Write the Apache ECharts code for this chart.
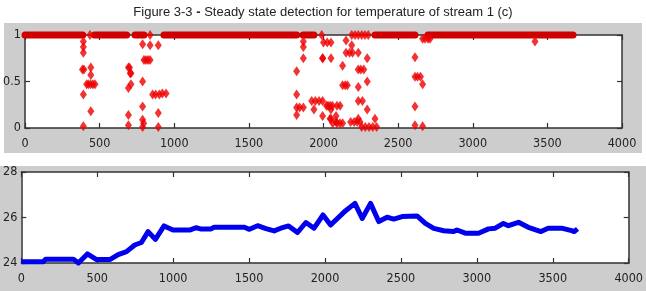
<!DOCTYPE html>
<html>
<head>
<meta charset="utf-8">
<script src="https://cdn.jsdelivr.net/npm/echarts@6/dist/echarts.min.js"></script>
<style>
  html, body { margin: 0; padding: 0; background: #fff; }
  #main { width: 646px; height: 291px; }
</style>
</head>
<body>
<div id="main"></div>
<script type="text/javascript">
// top panel: steady state flag, continuous stretches at 1
var bandStart = [0, 465, 737, 931, 1863, 2345, 2700];
var bandEnd   = [387, 681, 797, 1820, 1936, 2613, 3672];

// top panel: scattered detection points [sample, value]
var flagX = [435, 838, 1988, 2189, 2211, 2233, 2256, 2278, 2300,
  391, 391, 391, 385, 395, 391, 391,
  413, 425, 440, 455, 469, 441, 441, 441,
  693, 700, 705, 693, 693, 693, 710, 710,
  788, 788, 788, 788, 788, 795, 797, 810, 824, 838, 838,
  893, 893, 893, 855, 875, 900, 920, 945,
  1820, 1820, 1820, 1840, 1865, 1820, 1865, 1865, 1865, 1936,
  1921, 1945, 1970, 1994, 1994, 1994, 2050, 2050, 2050, 2000, 2025, 2050,
  1995, 2020, 2044, 2044, 2030, 2060, 2090, 2111,
  2151, 2189, 2151, 2175, 2195, 2128, 2128, 2145, 2160, 2084, 2084,
  2062, 2090, 2110, 2128, 2233, 2233, 2233, 2233, 2233, 2250, 2270,
  2182, 2205, 2225, 2245, 2261, 2293, 2293, 2293,
  2256, 2280, 2305, 2330, 2356, 2345,
  2613, 2613, 2613, 2613, 2630, 2650, 2664, 2664, 2664, 2680, 2700, 2714,
  3417];
var flagY = [1, 1, 1, 1, 1, 1, 1, 1, 1,
  0.93, 0.87, 0.81, 0.63, 0.63, 0.36, 0.02,
  0.47, 0.47, 0.47, 0.47, 0.47, 0.65, 0.57, 0.18,
  0.65, 0.65, 0.59, 0.43, 0.14, 0.03, 0.59, 0.47,
  0.90, 0.50, 0.23, 0.09, 0.01, 0.05, 0.73, 0.73, 0.73, 0.73, 0.89,
  0.89, 0.16, 0.01, 0.36, 0.36, 0.36, 0.37, 0.37,
  0.61, 0.36, 0.22, 0.22, 0.22, 0.14, 0.93, 0.87, 0.75, 0.20,
  0.29, 0.29, 0.29, 0.29, 0.75, 0.13, 0.75, 0.20, 0.10, 0.92, 0.92, 0.92,
  0.75, 0.24, 0.24, 0.10, 0.24, 0.24, 0.24, 0.24,
  0.94, 0.89, 0.81, 0.81, 0.81, 0.67, 0.46, 0.46, 0.46, 0.13, 0.07,
  0.05, 0.05, 0.05, 0.05, 0.81, 0.44, 0.29, 0.10, 0.63, 0.63, 0.63,
  0.065, 0.065, 0.065, 0.065, 0.29, 0.75, 0.50, 0.20,
  0.01, 0.01, 0.01, 0.01, 0.01, 0.10,
  0.76, 0.23, 0.03, 0.55, 0.55, 0.55, 0.47, 0.02, 0.96, 0.96, 0.96, 0.96,
  0.93];

// bottom panel: temperature
var tempX = [0, 146, 160, 343, 376, 435, 496, 583, 638, 693, 747, 791, 835, 883, 940, 999, 1108, 1152, 1180, 1250, 1270, 1469, 1502, 1556, 1611, 1665, 1709, 1760, 1819, 1874, 1928, 1987, 2037, 2136, 2197, 2245, 2300, 2354, 2409, 2453, 2508, 2606, 2661, 2716, 2782, 2847, 2869, 2924, 3011, 3077, 3121, 3175, 3208, 3274, 3339, 3422, 3470, 3558, 3624, 3641, 3663];
var tempY = [24.06, 24.06, 24.17, 24.17, 24.0, 24.4, 24.15, 24.15, 24.37, 24.5, 24.79, 24.9, 25.38, 25.04, 25.63, 25.45, 25.45, 25.55, 25.5, 25.5, 25.57, 25.57, 25.48, 25.64, 25.51, 25.41, 25.53, 25.63, 25.34, 25.78, 25.53, 26.11, 25.67, 26.3, 26.62, 25.96, 26.62, 25.82, 26.01, 25.93, 26.04, 26.07, 25.74, 25.52, 25.42, 25.38, 25.45, 25.31, 25.31, 25.5, 25.53, 25.74, 25.64, 25.79, 25.57, 25.38, 25.53, 25.53, 25.42, 25.38, 25.5];

var labelFont = 'DejaVu Sans Condensed';
var chart = echarts.init(document.getElementById('main'), null, { renderer: 'canvas' });

var bandData = [];
for (var i = 0; i < bandStart.length; i++) {
  bandData.push([bandStart[i], 1]);
  bandData.push([bandEnd[i], 1]);
  bandData.push([bandEnd[i], '-']);
}
var flagData = flagX.map(function (x, i) { return [x, flagY[i]]; });
var tempData = tempX.map(function (x, i) { return [x, tempY[i]]; });

function xAxisPair(gi) {
  var base = {
    gridIndex: gi, type: 'value', min: 0, max: 4000, interval: 500,
    axisLine: { show: true, onZero: false, lineStyle: { color: '#333', width: 1.5 } },
    axisTick: { show: true, inside: true, length: 5, lineStyle: { color: '#333', width: 1.2 } },
    splitLine: { show: false }
  };
  var bottom = echarts.util.merge({
    position: 'bottom',
    axisLabel: { show: true, color: '#222', fontFamily: labelFont, fontSize: 12.5, margin: 9,
      formatter: function (v) { return String(v); } }
  }, base, true);
  var top = echarts.util.merge({ position: 'top', axisLabel: { show: false } }, base, true);
  return [bottom, top];
}
function yAxisPair(gi, min, max, interval) {
  var base = {
    gridIndex: gi, type: 'value', min: min, max: max, interval: interval,
    axisLine: { show: true, onZero: false, lineStyle: { color: '#333', width: 1.5 } },
    axisTick: { show: true, inside: true, length: 5, lineStyle: { color: '#333', width: 1.2 } },
    splitLine: { show: false }
  };
  var left = echarts.util.merge({
    position: 'left',
    axisLabel: { show: true, color: '#222', fontFamily: labelFont, fontSize: 12.5, margin: 4,
      formatter: function (v) { return String(v); } }
  }, base, true);
  var right = echarts.util.merge({ position: 'right', axisLabel: { show: false } }, base, true);
  return [left, right];
}

var xa1 = xAxisPair(0), xa2 = xAxisPair(1);
var ya1 = yAxisPair(0, 0, 1, 0.5);
var ya2 = yAxisPair(1, 24, 28, 2);

var option = {
  animation: false,
  backgroundColor: '#fff',
  title: {
    text: 'Figure 3-3 {b|-} Steady state detection for temperature of stream 1 (c)',
    left: 'center', top: 1,
    textStyle: {
      fontFamily: 'Liberation Sans', fontSize: 13, fontWeight: 'normal', color: '#222',
      rich: { b: { fontFamily: 'Liberation Sans', fontSize: 13, fontWeight: 'bold', color: '#222' } }
    }
  },
  graphic: [
    { type: 'rect', z: -10, silent: true, shape: { x: 4, y: 23, width: 638, height: 130 }, style: { fill: '#cdcdcd' } },
    { type: 'rect', z: -10, silent: true, shape: { x: 0, y: 166, width: 646, height: 125 }, style: { fill: '#cdcdcd' } }
  ],
  grid: [
    { left: 25, top: 35, width: 597, height: 93, show: true, backgroundColor: '#fff', borderWidth: 0 },
    { left: 21, top: 172, width: 610, height: 91, show: true, backgroundColor: '#fff', borderWidth: 0 }
  ],
  xAxis: [xa1[0], xa1[1], xa2[0], xa2[1]],
  yAxis: [ya1[0], ya1[1], ya2[0], ya2[1]],
  series: [
    {
      name: 'steady band', type: 'line', xAxisIndex: 0, yAxisIndex: 0,
      data: bandData, symbol: 'none', clip: false, connectNulls: false,
      lineStyle: { color: '#d00000', width: 7, cap: 'round' }, z: 3
    },
    {
      name: 'flag', type: 'scatter', xAxisIndex: 0, yAxisIndex: 0,
      data: flagData, symbol: 'diamond', symbolSize: [7, 10], clip: false,
      itemStyle: { color: '#ee0000' }, z: 4
    },
    {
      name: 'temperature', type: 'line', xAxisIndex: 2, yAxisIndex: 2,
      data: tempData, symbol: 'none', clip: false,
      lineStyle: { color: '#0000ee', width: 5, join: 'round' }
    }
  ]
};
chart.setOption(option);
</script>
</body>
</html>
